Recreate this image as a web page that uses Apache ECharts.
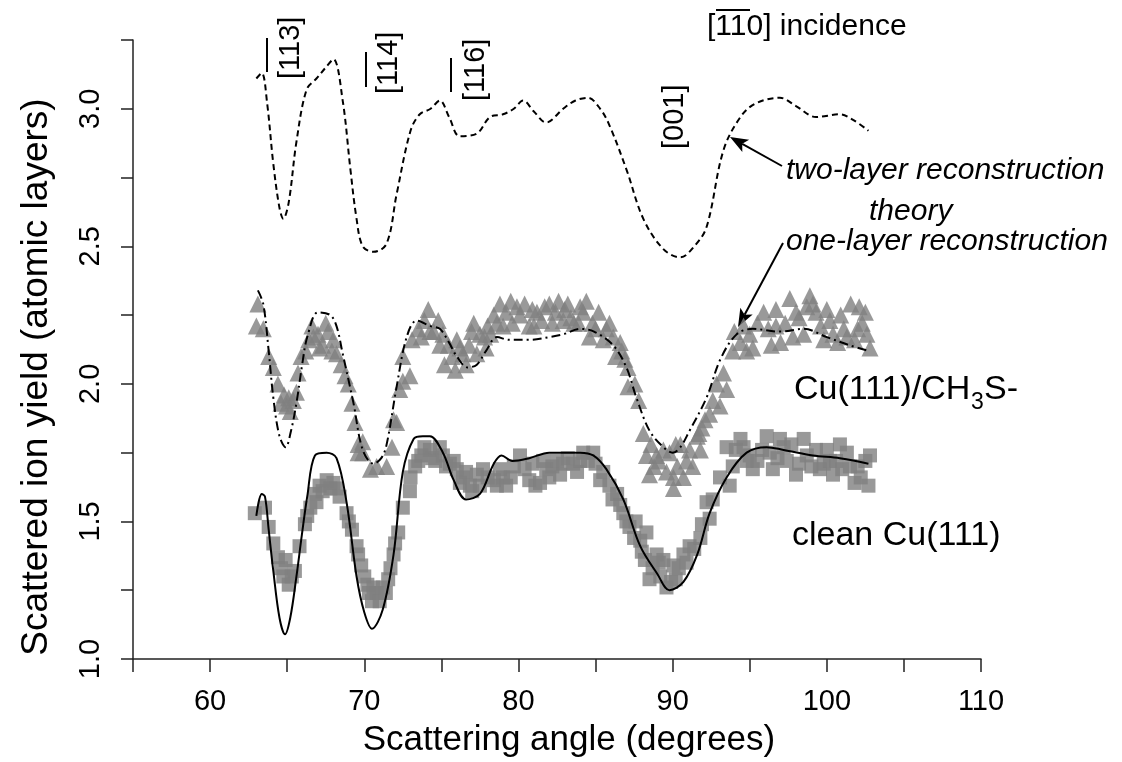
<!DOCTYPE html>
<html>
<head>
<meta charset="utf-8">
<script src="https://cdn.jsdelivr.net/npm/echarts@6/dist/echarts.min.js"></script>
<style>
html,body{margin:0;padding:0;background:#fff;}
#chart{width:1122px;height:762px;}
</style>
</head>
<body>
<div id="chart"></div>
<script>
// ---- data (angle in degrees, yield in atomic layers) ----
var xTicks = [60, 70, 80, 90, 100, 110];
var yTicks = [1.0, 1.5, 2.0, 2.5, 3.0];

var twoLayerTheory = [
  [63.0,3.11],[63.35,3.13],[63.7,3.02],[64.1,2.80],[64.5,2.64],[64.75,2.60],[65.1,2.66],[65.6,2.88],
  [66.26,3.07],[66.9,3.11],[67.5,3.15],[68.0,3.18],[68.6,3.03],[69.1,2.78],[69.5,2.60],[69.9,2.50],
  [70.6,2.48],[71.45,2.51],[72.1,2.69],[73.0,2.92],[73.6,2.98],[74.3,3.00],[74.9,3.03],[75.5,2.97],
  [76.2,2.90],[77.3,2.91],[78.15,2.97],[79.0,2.98],[79.7,3.00],[80.3,3.03],[81.0,2.99],[81.8,2.95],
  [82.9,3.00],[83.7,3.03],[84.5,3.04],[85.3,3.00],[85.9,2.94],[87.0,2.78],[88.1,2.60],[89.4,2.49],
  [90.5,2.46],[91.4,2.50],[92.2,2.57],[93.3,2.85],[94.4,2.97],[95.4,3.02],[96.96,3.04],[98.0,3.01],
  [99.3,2.97],[100.85,2.98],[101.7,2.96],[102.7,2.92]
];

var oneLayerTheory = [
  [63.1,2.34],[63.45,2.29],[63.8,2.12],[64.1,1.95],[64.5,1.81],[64.9,1.77],[65.25,1.83],[65.6,1.93],
  [66.0,2.08],[66.3,2.17],[67.0,2.26],[67.8,2.25],[68.2,2.21],[68.6,2.11],[69.3,1.93],[69.9,1.76],
  [70.6,1.71],[71.1,1.73],[71.45,1.78],[72.1,1.99],[72.75,2.17],[73.4,2.23],[74.3,2.21],[74.9,2.20],
  [75.5,2.15],[76.0,2.10],[76.7,2.06],[77.3,2.07],[77.9,2.12],[78.6,2.17],[79.4,2.16],[80.7,2.16],
  [82.0,2.17],[82.9,2.18],[84.0,2.20],[84.9,2.19],[86.15,2.14],[87.0,2.06],[87.65,1.95],[88.5,1.83],
  [89.4,1.77],[90.0,1.75],[90.5,1.77],[91.1,1.83],[92.2,1.95],[93.1,2.09],[94.15,2.18],[95.2,2.20],
  [96.95,2.19],[98.5,2.20],[100.0,2.17],[101.5,2.14],[102.7,2.12]
];

var cleanTheory = [
  [63.0,1.52],[63.35,1.60],[63.56,1.59],[63.8,1.47],[64.1,1.32],[64.5,1.15],[64.86,1.09],[65.2,1.15],
  [65.6,1.30],[65.95,1.45],[66.3,1.59],[66.8,1.74],[67.56,1.75],[68.2,1.73],[68.85,1.57],[69.5,1.30],
  [70.0,1.17],[70.5,1.11],[71.2,1.18],[71.9,1.38],[72.5,1.68],[73.2,1.80],[73.8,1.81],[74.26,1.81],
  [75.1,1.75],[75.8,1.65],[76.6,1.58],[77.5,1.60],[78.4,1.71],[78.9,1.74],[79.6,1.72],[80.7,1.73],
  [82.0,1.75],[84.0,1.75],[84.85,1.74],[85.7,1.69],[86.8,1.58],[87.9,1.41],[89.0,1.31],[89.8,1.25],
  [90.7,1.28],[91.6,1.38],[92.4,1.53],[93.5,1.66],[94.8,1.75],[96.1,1.77],[97.2,1.76],[99.1,1.74],
  [100.85,1.73],[102.7,1.71]
];

var ch3sExperiment = [
  [63.0,2.21],[63.1,2.29],[63.45,2.20],[63.8,2.10],[64.1,2.06],[64.4,2.00],[64.6,1.93],[64.8,1.96],
  [64.96,1.92],[65.1,1.95],[65.2,1.90],[65.4,1.94],[65.6,1.97],[65.7,2.04],[65.9,2.10],[66.2,2.12],
  [66.4,2.16],[66.6,2.21],[66.7,2.17],[67.0,2.18],[67.1,2.13],[67.3,2.14],[67.5,2.22],[67.66,2.19],
  [67.9,2.12],[68.0,2.16],[68.2,2.11],[68.5,2.07],[68.75,2.03],[68.96,2.00],[69.2,1.93],[69.4,1.86],
  [69.6,1.78],[69.9,1.79],[69.6,1.75],[69.9,1.75],[70.4,1.69],[70.8,1.70],[71.45,1.70],[71.8,1.77],
  [71.9,1.87],[72.1,1.86],[72.3,1.98],[72.5,2.01],[72.96,2.03],[72.5,2.10],[73.1,2.16],[73.5,2.20],
  [73.7,2.17],[73.9,2.23],[74.15,2.27],[74.26,2.19],[74.5,2.19],[74.8,2.23],[74.9,2.14],[75.1,2.18],
  [75.2,2.07],[75.45,2.14],[75.7,2.10],[75.9,2.05],[76.0,2.16],[76.2,2.13],[76.4,2.11],[76.6,2.07],
  [76.8,2.14],[76.96,2.19],[77.1,2.22],[77.3,2.11],[77.5,2.18],[77.8,2.17],[77.9,2.13],[78.0,2.21],
  [78.2,2.18],[78.4,2.25],[78.6,2.22],[78.8,2.29],[79.0,2.21],[79.2,2.26],[79.5,2.30],[79.6,2.22],
  [79.9,2.28],[80.1,2.25],[80.4,2.29],[80.7,2.21],[80.9,2.27],[81.0,2.21],[81.2,2.26],[81.5,2.23],
  [81.7,2.28],[82.0,2.29],[82.2,2.22],[82.4,2.26],[82.6,2.30],[82.9,2.23],[83.0,2.27],[83.2,2.29],
  [83.4,2.24],[83.6,2.22],[83.9,2.22],[84.0,2.28],[84.2,2.26],[84.4,2.30],[84.6,2.17],[84.8,2.22],
  [85.0,2.20],[85.2,2.26],[85.5,2.16],[85.7,2.20],[85.9,2.22],[86.15,2.17],[86.3,2.10],[86.6,2.15],
  [86.7,2.12],[86.9,2.09],[87.1,2.06],[87.1,1.99],[87.55,2.00],[87.8,1.94],[88.1,1.82],[88.3,1.74],
  [88.5,1.67],[88.6,1.78],[88.8,1.70],[88.96,1.74],[89.1,1.72],[89.4,1.76],[89.6,1.68],[89.8,1.75],
  [90.05,1.66],[90.05,1.62],[90.2,1.78],[90.3,1.70],[90.5,1.78],[90.7,1.66],[90.9,1.72],[91.1,1.76],
  [91.3,1.70],[91.6,1.81],[91.7,1.82],[91.8,1.76],[91.9,1.84],[92.1,1.87],[92.4,1.89],[92.6,1.94],
  [92.85,2.00],[93.07,1.92],[93.3,2.04],[93.5,1.98],[93.9,2.12],[94.0,2.19],[94.4,2.15],[94.6,2.21],
  [94.8,2.12],[95.0,2.18],[95.2,2.13],[95.5,2.22],[95.9,2.26],[96.2,2.20],[96.4,2.14],[96.7,2.27],
  [96.7,2.21],[97.0,2.15],[97.3,2.22],[97.6,2.31],[97.8,2.17],[98.0,2.26],[98.2,2.24],[98.5,2.18],
  [98.7,2.28],[98.9,2.32],[99.1,2.29],[99.3,2.26],[99.6,2.21],[99.8,2.16],[100.0,2.27],[100.2,2.23],
  [100.4,2.18],[100.7,2.15],[100.9,2.25],[101.1,2.20],[101.3,2.17],[101.55,2.29],[101.8,2.16],[102.0,2.20],
  [102.1,2.28],[102.3,2.22],[102.5,2.26],[102.6,2.18],[102.8,2.13]
];

var cleanExperiment = [
  [62.9,1.53],[63.56,1.55],[63.8,1.48],[64.1,1.42],[64.4,1.37],[64.6,1.33],[64.75,1.30],[64.9,1.36],
  [65.1,1.27],[65.3,1.30],[65.5,1.32],[65.8,1.41],[66.15,1.49],[66.3,1.52],[66.5,1.55],[66.8,1.60],
  [66.9,1.57],[67.1,1.63],[67.3,1.61],[67.56,1.65],[67.8,1.62],[68.0,1.64],[68.2,1.62],[68.4,1.59],
  [68.85,1.53],[69.0,1.50],[69.2,1.47],[69.5,1.41],[69.6,1.38],[69.8,1.34],[70.0,1.30],[70.2,1.27],
  [70.3,1.24],[70.5,1.21],[70.6,1.26],[70.8,1.24],[71.0,1.21],[71.2,1.26],[71.4,1.24],[71.55,1.29],
  [71.7,1.33],[71.9,1.38],[72.0,1.42],[72.2,1.46],[72.5,1.55],[72.96,1.61],[73.0,1.66],[73.3,1.70],
  [73.5,1.72],[73.7,1.74],[73.9,1.77],[74.26,1.76],[74.4,1.73],[74.6,1.72],[74.9,1.77],[75.1,1.74],
  [75.3,1.70],[75.55,1.71],[75.8,1.72],[76.0,1.69],[76.2,1.64],[76.4,1.66],[76.6,1.68],[76.85,1.63],
  [77.0,1.61],[77.3,1.67],[77.5,1.63],[77.7,1.69],[78.0,1.66],[78.4,1.65],[78.6,1.63],[78.8,1.69],
  [79.0,1.66],[79.2,1.63],[79.5,1.66],[79.7,1.70],[80.1,1.74],[80.4,1.69],[80.7,1.65],[80.9,1.71],
  [81.1,1.63],[81.4,1.64],[81.6,1.72],[81.8,1.69],[82.0,1.66],[82.2,1.70],[82.5,1.72],[82.7,1.67],
  [82.9,1.71],[83.2,1.73],[83.55,1.71],[83.8,1.68],[84.0,1.72],[84.2,1.75],[84.5,1.72],[84.85,1.75],
  [85.0,1.71],[85.3,1.65],[85.5,1.68],[85.9,1.63],[86.1,1.58],[86.4,1.60],[86.6,1.56],[86.8,1.53],
  [87.0,1.50],[87.2,1.48],[87.5,1.44],[87.6,1.50],[87.9,1.43],[88.0,1.39],[88.2,1.36],[88.3,1.46],
  [88.5,1.29],[88.7,1.33],[88.96,1.38],[89.1,1.35],[89.2,1.30],[89.4,1.36],[89.6,1.26],[89.9,1.28],
  [90.05,1.34],[90.2,1.29],[90.4,1.33],[90.7,1.38],[90.9,1.35],[91.1,1.41],[91.4,1.40],[91.8,1.44],
  [91.9,1.49],[92.2,1.57],[92.4,1.51],[92.6,1.58],[93.07,1.66],[93.5,1.77],[93.7,1.63],[93.9,1.70],
  [94.1,1.76],[94.4,1.80],[94.6,1.77],[94.8,1.72],[95.0,1.74],[95.2,1.69],[95.5,1.72],[95.8,1.76],
  [96.1,1.81],[96.3,1.75],[96.5,1.69],[96.8,1.73],[96.96,1.80],[97.2,1.77],[97.4,1.72],[97.7,1.78],
  [98.0,1.67],[98.2,1.71],[98.5,1.80],[98.7,1.74],[99.0,1.70],[99.3,1.76],[99.55,1.69],[99.8,1.71],
  [100.0,1.76],[100.2,1.72],[100.4,1.67],[100.6,1.72],[100.85,1.78],[101.0,1.69],[101.3,1.75],[101.5,1.70],
  [101.8,1.64],[102.0,1.70],[102.2,1.66],[102.5,1.72],[102.7,1.63],[102.8,1.74]
];

// ---- chart ----
var FONT = '"Liberation Sans", Arial, Helvetica, sans-serif';
var GRAY = '#7f7f7f';
var chart = echarts.init(document.getElementById('chart'), null, {renderer: 'canvas'});

function arrow(x1, y1, x2, y2) {
  var dx = x2 - x1, dy = y2 - y1, len = Math.sqrt(dx*dx + dy*dy);
  var ux = dx/len, uy = dy/len, hl = 18, hw = 7;
  var bx = x2 - ux*hl, by = y2 - uy*hl;
  return [
    {type:'line', shape:{x1:x1, y1:y1, x2:bx + ux*4, y2:by + uy*4}, style:{stroke:'#000', lineWidth:2}},
    {type:'polygon', shape:{points:[[x2,y2],[bx - uy*hw, by + ux*hw],[bx + ux*4, by + uy*4],[bx + uy*hw, by - ux*hw]]}, style:{fill:'#000'}}
  ];
}

function vText(txt, x, yBottom) {
  return {type:'text', x:x, y:yBottom, rotation:Math.PI/2,
    style:{text:txt, font:'29px ' + FONT, fill:'#000', align:'left', verticalAlign:'middle'}};
}
function bar(x1, y1, x2, y2) {
  return {type:'line', shape:{x1:x1, y1:y1, x2:x2, y2:y2}, style:{stroke:'#000', lineWidth:2}};
}
function hText(txt, x, y, size, italic, align) {
  return {type:'text', x:x, y:y, style:{text:txt, font:(italic ? 'italic ' : '') + size + 'px ' + FONT,
    fill:'#000', align:align || 'left', verticalAlign:'middle'}};
}

var graphics = [
  vText('[113]', 291, 79), bar(267, 38, 267, 72),
  vText('[114]', 389, 94), bar(366, 52, 366, 87),
  vText('[116]', 476, 101), bar(451, 58, 451, 92),
  vText('[001]', 675, 149),
  hText('[110] incidence', 707, 27, 30),
  bar(716, 10, 750, 10),
  hText('two-layer reconstruction', 786, 171, 30, true),
  hText('theory', 869, 212, 30, true),
  hText('one-layer reconstruction', 786, 242, 30, true),
  hText('Cu(111)/CH', 794, 390, 34),
  hText('3', 971, 403, 23),
  hText('S-', 984, 390, 34),
  hText('clean Cu(111)', 792, 536, 34),
  // axis titles
  hText('Scattering angle (degrees)', 569, 740, 35, false, 'center'),
  {type:'text', x:37, y:377, rotation:Math.PI/2,
    style:{text:'Scattered ion yield (atomic layers)', font:'37px ' + FONT, fill:'#000', align:'center', verticalAlign:'middle'}}
].concat(arrow(782, 166, 730, 137)).concat(arrow(783, 243, 738, 327));

var option = {
  backgroundColor: '#fff',
  animation: false,
  grid: {left: 133, right: 141, top: 40, bottom: 103},
  xAxis: {
    type: 'value', min: 55, max: 110, interval: 5,
    axisLine: {lineStyle: {color: '#222', width: 1.5}},
    axisTick: {length: 13, lineStyle: {color: '#222', width: 1.5}},
    axisLabel: {margin: 28, fontFamily: FONT, fontSize: 29, color: '#000',
      formatter: function (v) { return xTicks.indexOf(v) >= 0 ? String(v) : ''; }},
    splitLine: {show: false}
  },
  yAxis: {
    type: 'value', min: 1.0, max: 3.25, interval: 0.25,
    axisLine: {lineStyle: {color: '#222', width: 1.5}},
    axisTick: {length: 12, lineStyle: {color: '#222', width: 1.5}},
    axisLabel: {margin: 28, rotate: 90, fontFamily: FONT, fontSize: 29, color: '#000',
      formatter: function (v) {
        for (var i = 0; i < yTicks.length; i++) { if (Math.abs(yTicks[i] - v) < 1e-6) return yTicks[i].toFixed(1); }
        return '';
      }},
    splitLine: {show: false}
  },
  series: [
    {type: 'scatter', name: 'Cu(111)/CH3S- experiment', data: ch3sExperiment, symbol: 'triangle', symbolSize: 17,
      itemStyle: {color: GRAY}, z: 2},
    {type: 'scatter', name: 'clean Cu(111) experiment', data: cleanExperiment, symbol: 'rect', symbolSize: 14,
      itemStyle: {color: GRAY}, z: 2},
    {type: 'line', name: 'two-layer reconstruction theory', data: twoLayerTheory, smooth: 0.35, showSymbol: false,
      lineStyle: {color: '#000', width: 2, type: [6, 4]}, z: 5},
    {type: 'line', name: 'one-layer reconstruction theory', data: oneLayerTheory, smooth: 0.35, showSymbol: false,
      lineStyle: {color: '#000', width: 2, type: [9, 4, 2, 4]}, z: 5},
    {type: 'line', name: 'clean Cu(111) theory', data: cleanTheory, smooth: 0.35, showSymbol: false,
      lineStyle: {color: '#000', width: 2}, z: 5}
  ],
  graphic: graphics
};
chart.setOption(option);
</script>
</body>
</html>
